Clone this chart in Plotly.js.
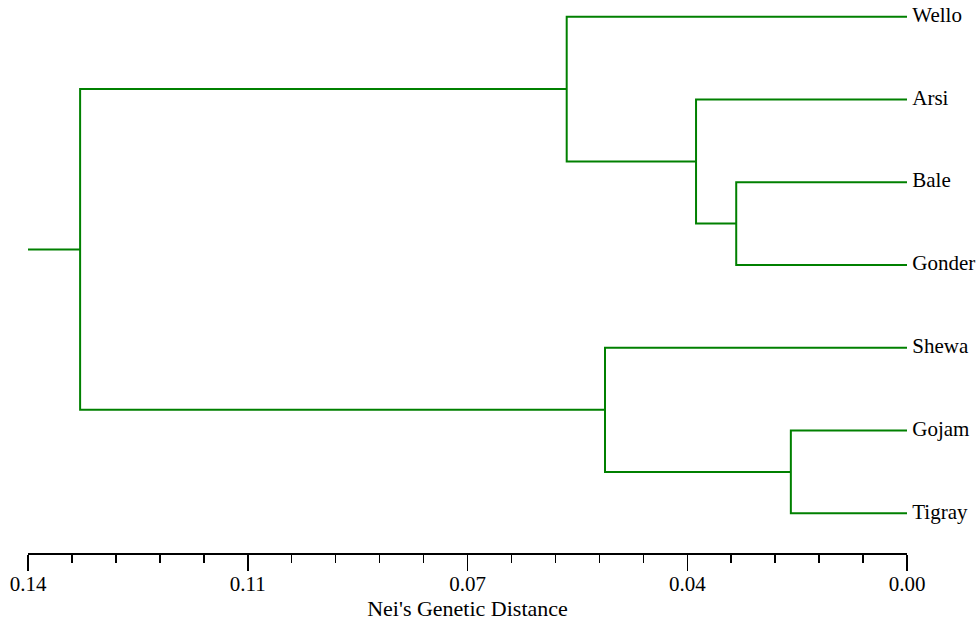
<!DOCTYPE html>
<html>
<head>
<meta charset="utf-8">
<script src="https://cdn.plot.ly/plotly-3.0.1.min.js"></script>
<style>html,body{margin:0;padding:0;background:#fff}#chart{width:980px;height:621px}</style>
</head>
<body>
<div id="chart"></div>
<script>
// Leaves (top to bottom)
const leaves = ['Wello', 'Arsi', 'Bale', 'Gonder', 'Shewa', 'Gojam', 'Tigray'];
// Merges: children refer to leaf names or earlier merge ids; heights are Nei's genetic distance
const mergeIds      = ['BG', 'ABG', 'WABG', 'GT', 'SGT', 'ROOT'];
const mergeChildA   = ['Bale', 'Arsi', 'Wello', 'Gojam', 'Shewa', 'WABG'];
const mergeChildB   = ['Gonder', 'BG', 'ABG', 'Tigray', 'GT', 'SGT'];
const mergeHeights  = [0.0272, 0.0336, 0.0542, 0.0185, 0.0481, 0.1317];
const rootStubEnd = 0.14;
// Axis ticks
const tickVals = [0.14, 0.105, 0.07, 0.035, 0.0];
const tickText = ['0.14', '0.11', '0.07', '0.04', '0.00'];

const pos = {}, hgt = {};
leaves.forEach((l, i) => { pos[l] = i; hgt[l] = 0; });
const xs = [], ys = [];
mergeIds.forEach((id, k) => {
  const a = mergeChildA[k], b = mergeChildB[k], h = mergeHeights[k];
  pos[id] = (pos[a] + pos[b]) / 2; hgt[id] = h;
  xs.push(hgt[a], h, h, hgt[b], null);
  ys.push(pos[a], pos[a], pos[b], pos[b], null);
});
xs.push(hgt['ROOT'], rootStubEnd, null);
ys.push(pos['ROOT'], pos['ROOT'], null);

const serif = '"Liberation Serif", "Times New Roman", Times, serif';
const traces = [
  {x: xs, y: ys, mode: 'lines', type: 'scatter', line: {color: '#008000', width: 2}, hoverinfo: 'skip', cliponaxis: false},
  {x: leaves.map(() => 0), y: leaves.map((l, i) => i), text: leaves.map(l => '\u00a0' + l), mode: 'text', type: 'scatter',
   textposition: 'middle right', textfont: {family: serif, size: 21, color: '#000'}, cliponaxis: false, hoverinfo: 'skip'}
];
const layout = {
  width: 980, height: 621,
  margin: {l: 28, r: 73, t: 0, b: 68},
  paper_bgcolor: '#fff', plot_bgcolor: '#fff',
  showlegend: false,
  font: {family: serif},
  xaxis: {
    range: [0.14, 0], showgrid: false, zeroline: false,
    showline: true, linecolor: '#000', linewidth: 1.5,
    ticks: 'outside', ticklen: 16, tickwidth: 1.5, tickcolor: '#000',
    tickmode: 'array', tickvals: tickVals, ticktext: tickText,
    ticklabelstandoff: -5,
    tickfont: {family: serif, size: 21, color: '#000'},
    minor: {tickmode: 'linear', tick0: 0, dtick: 0.007, ticklen: 8, tickwidth: 1.5, tickcolor: '#000', ticks: 'outside'},
    title: {text: "Nei's Genetic Distance", font: {family: serif, size: 22, color: '#000'}, standoff: 0},
    automargin: false
  },
  yaxis: {range: [6.48, -0.2018], visible: false, showgrid: false, zeroline: false, automargin: false}
};
Plotly.newPlot('chart', traces, layout, {displayModeBar: false, staticPlot: true});
</script>
</body>
</html>
